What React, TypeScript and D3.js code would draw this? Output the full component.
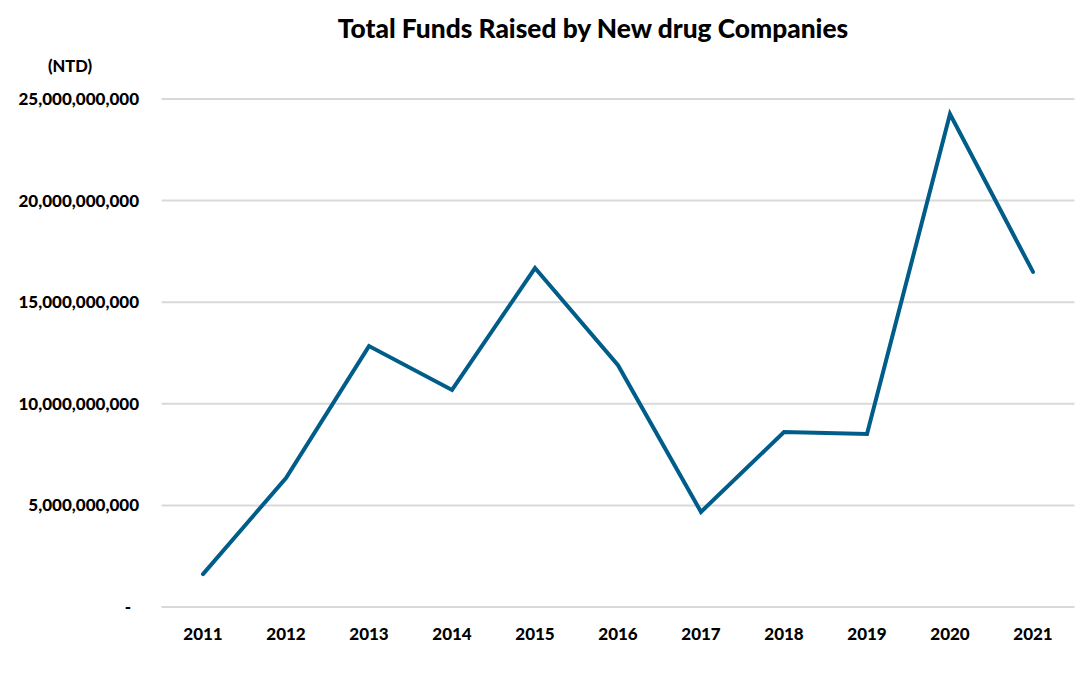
import React from "react";
import * as d3 from "d3";

const years = ["2011","2012","2013","2014","2015","2016","2017","2018","2019","2020","2021"];
const funds = [1.62e9, 6.35e9, 12.84e9, 10.68e9, 16.68e9, 11.9e9, 4.68e9, 8.61e9, 8.51e9, 24.26e9, 16.49e9];
const yTicks = [0, 5e9, 10e9, 15e9, 20e9, 25e9];

const W = 1090, H = 690;
const M = { left: 161.5, right: 1074.5, top: 99, bottom: 607 };
const FONT = "Lato, 'Open Sans', sans-serif";

export default function App() {
  const x = d3.scaleBand().domain(years).range([M.left, M.right]);
  const y = d3.scaleLinear().domain([0, 25e9]).range([M.bottom, M.top]);
  const line = d3.line<number>()
    .x((_, i) => (x(years[i]) as number) + x.bandwidth() / 2)
    .y((d) => y(d));
  const fmt = (v: number) => (v === 0 ? "-" : d3.format(",")(v));
  return (
    <svg width={W} height={H} style={{ position: "absolute", left: 0, top: 0, background: "#fff" }}>
      <rect width={W} height={H} fill="#fff" />
      <text x={593} y={38} textAnchor="middle" fontFamily={FONT} fontWeight={900} fontSize={26.3} fill="#000">
        Total Funds Raised by New drug Companies
      </text>
      <text x={70} y={72} textAnchor="middle" fontFamily={FONT} fontWeight={900} fontSize={16.5} fill="#000">(NTD)</text>
      {yTicks.map((t) => (
        <g key={t}>
          <line x1={M.left} x2={M.right} y1={y(t)} y2={y(t)} stroke="#d9d9d9" strokeWidth={2} />
          <text x={t === 0 ? 131 : 139} y={y(t) + 6} textAnchor="end" fontFamily={FONT} fontWeight={900} fontSize={17} fill="#000">
            {fmt(t)}
          </text>
        </g>
      ))}
      {years.map((yr) => (
        <text key={yr} x={(x(yr) as number) + x.bandwidth() / 2} y={640} textAnchor="middle" fontFamily={FONT} fontWeight={900} fontSize={17} fill="#000">
          {yr}
        </text>
      ))}
      <path d={line(funds) || ""} fill="none" stroke="#005c88" strokeWidth={4} strokeLinejoin="miter" strokeLinecap="round" />
    </svg>
  );
}
